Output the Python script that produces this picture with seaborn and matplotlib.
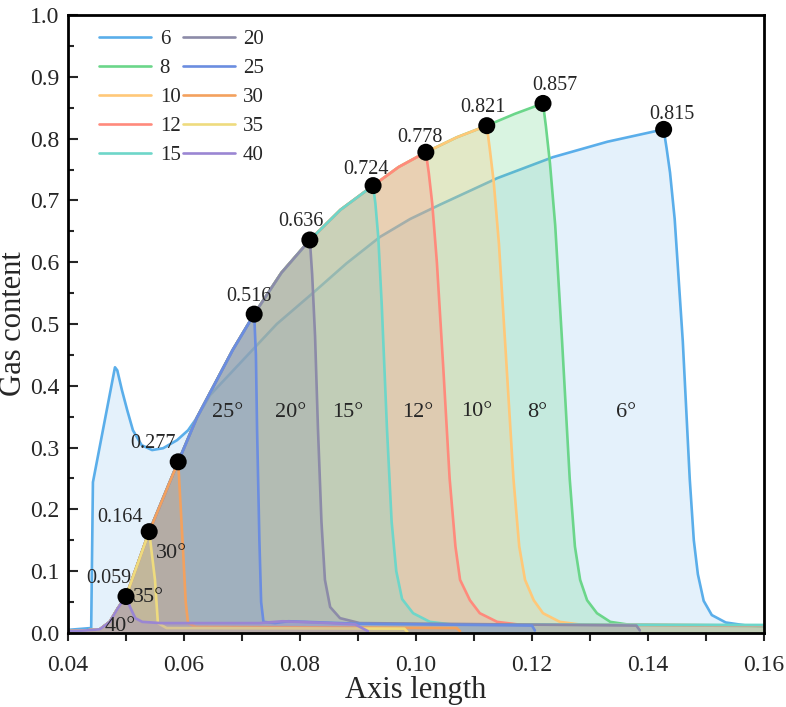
import numpy as np
import pandas as pd
import matplotlib
matplotlib.use("Agg")
import matplotlib.pyplot as plt
import seaborn as sns
from matplotlib.ticker import MultipleLocator, FormatStrFormatter

# ---------------- data ----------------
angles = ['6', '8', '10', '12', '15', '20', '25', '30', '35', '40']
peak_x = [0.1427, 0.1219, 0.1122, 0.1017, 0.0926, 0.0817, 0.0721, 0.0590, 0.0540, 0.0500]
peak_y = [0.815, 0.857, 0.821, 0.778, 0.724, 0.636, 0.516, 0.277, 0.164, 0.059]

# common rising envelope shared by the 8..40 degree curves
env_x = [0.040, 0.043, 0.0455, 0.0472, 0.0486, 0.0500, 0.0540, 0.0590, 0.0622, 0.0684,
         0.0721, 0.0768, 0.0817, 0.0870, 0.0926, 0.0970, 0.1017, 0.1070, 0.1122, 0.1170, 0.1219]
env_y = [0.003, 0.004, 0.006, 0.018, 0.040, 0.059, 0.164, 0.277, 0.348, 0.458,
         0.516, 0.583, 0.636, 0.685, 0.724, 0.754, 0.778, 0.802, 0.821, 0.840, 0.857]

# the 6 degree curve has its own rising branch
six_x = [0.040, 0.0440, 0.0443, 0.0481, 0.0485, 0.0493, 0.0502, 0.0512, 0.0527, 0.0545,
         0.0564, 0.0588, 0.0607, 0.0622, 0.0645, 0.0700, 0.0760, 0.0822, 0.0880, 0.0938,
         0.0990, 0.1041, 0.1140, 0.1236, 0.1330, 0.1427]
six_y = [0.005, 0.008, 0.244, 0.430, 0.425, 0.393, 0.361, 0.328, 0.304, 0.296,
         0.299, 0.312, 0.328, 0.348, 0.385, 0.440, 0.500, 0.550, 0.598, 0.641,
         0.670, 0.693, 0.736, 0.770, 0.795, 0.815]

# falling branch + tail after each peak
drop_x = {
    '6':  [0.1432, 0.1438, 0.1446, 0.1460, 0.1472, 0.1479, 0.1486, 0.1496, 0.1510, 0.1534, 0.1570, 0.1600],
    '8':  [0.1224, 0.1231, 0.1240, 0.1252, 0.1265, 0.1274, 0.1283, 0.1295, 0.1312, 0.1335, 0.1370, 0.1600],
    '10': [0.1127, 0.1134, 0.1143, 0.1155, 0.1168, 0.1178, 0.1188, 0.1203, 0.1219, 0.1248, 0.1280, 0.1600],
    '12': [0.1022, 0.1028, 0.1036, 0.1047, 0.1058, 0.1068, 0.1076, 0.1093, 0.1110, 0.1140, 0.1174, 0.1600],
    '15': [0.0930, 0.0935, 0.0941, 0.0950, 0.0958, 0.0966, 0.0976, 0.0995, 0.1024, 0.1059, 0.1600],
    '20': [0.0821, 0.0826, 0.0831, 0.0837, 0.0843, 0.0852, 0.0869, 0.0903, 0.1380, 0.1386],
    '25': [0.0724, 0.0726, 0.0730, 0.0733, 0.0737, 0.0757, 0.0780, 0.0900, 0.1200, 0.1205],
    '30': [0.0598, 0.0603, 0.0607, 0.0620, 0.1070, 0.1076],
    '35': [0.0550, 0.0555, 0.0570, 0.0980, 0.0985],
    '40': [0.0507, 0.0516, 0.0528, 0.0560, 0.0730, 0.0770, 0.0850, 0.0895, 0.0917],
}
drop_y = {
    '6':  [0.785, 0.745, 0.670, 0.472, 0.249, 0.150, 0.095, 0.052, 0.029, 0.017, 0.012, 0.011],
    '8':  [0.820, 0.760, 0.660, 0.470, 0.250, 0.140, 0.086, 0.053, 0.032, 0.018, 0.013, 0.011],
    '10': [0.785, 0.730, 0.630, 0.450, 0.250, 0.140, 0.086, 0.053, 0.032, 0.018, 0.014, 0.012],
    '12': [0.745, 0.695, 0.600, 0.430, 0.250, 0.140, 0.086, 0.053, 0.032, 0.018, 0.014, 0.012],
    '15': [0.695, 0.640, 0.530, 0.330, 0.180, 0.100, 0.055, 0.032, 0.018, 0.014, 0.013],
    '20': [0.580, 0.480, 0.330, 0.180, 0.086, 0.042, 0.024, 0.016, 0.012, 0.004],
    '25': [0.450, 0.330, 0.150, 0.050, 0.018, 0.016, 0.019, 0.015, 0.012, 0.004],
    '30': [0.140, 0.050, 0.016, 0.010, 0.008, 0.003],
    '35': [0.086, 0.016, 0.008, 0.007, 0.002],
    '40': [0.042, 0.024, 0.018, 0.016, 0.016, 0.019, 0.016, 0.014, 0.003],
}

palette = {'6': '#5AAEEA', '8': '#6BD68A', '10': '#FFC878', '12': '#FF8A7C',
           '15': '#6ED6C9', '20': '#8C8BA8', '25': '#6B8DE0', '30': '#F3A15E',
           '35': '#EEDB7E', '40': '#9A86D3'}

# ---------------- build curves ----------------
curves = {}
for a, px, py in zip(angles, peak_x, peak_y):
    if a == '6':
        xs = list(six_x)
        ys = list(six_y)
    else:
        k = int(np.argmin(np.abs(np.array(env_x) - px)))
        xs = list(env_x[:k]) + [px]
        ys = list(env_y[:k]) + [py]
    xs += drop_x[a]
    ys += drop_y[a]
    curves[a] = pd.DataFrame({'x': xs, 'y': ys})

# ---------------- style ----------------
sns.set_style('ticks')
plt.rcParams['font.family'] = ['Liberation Serif', 'DejaVu Serif']

fig = plt.figure(figsize=(7.86, 7.07), dpi=100)
ax = fig.add_axes([0.0865, 0.1047, 0.8855, 0.874])

for i, a in enumerate(angles):
    df = curves[a]
    z = 1 + i * 0.1
    alpha = 0.16 if a == '6' else 0.25
    ax.fill_between(df['x'], df['y'], 0, color=palette[a], alpha=alpha, lw=0, zorder=z)
    sns.lineplot(data=df, x='x', y='y', sort=False, estimator=None, color=palette[a],
                 lw=1.9, ax=ax, zorder=z + 0.05, label=a)

sns.scatterplot(x=peak_x, y=peak_y, color='black', s=150, edgecolor='none',
                zorder=20, ax=ax, legend=False)

peak_off = [(8, 15), (12, 18), (-4, 18), (-6, 15), (-7, 16), (-9, 18), (-5, 18),
            (-25, 18), (-29, 14), (-17, 18)]
for px, py, off in zip(peak_x, peak_y, peak_off):
    ax.annotate(f'{py:.3f}', (px, py), xytext=off, textcoords='offset pixels',
                ha='center', va='center', fontsize=14.5, zorder=21)

angle_pos = {'6': (0.1362, 0.357), '8': (0.1209, 0.357), '10': (0.1105, 0.358),
             '12': (0.1003, 0.357), '15': (0.0883, 0.357), '20': (0.0784, 0.357),
             '25': (0.0676, 0.357), '30': (0.0579, 0.129), '35': (0.0538, 0.057),
             '40': (0.0490, 0.010)}
for a in angles:
    x, y = angle_pos[a]
    ax.text(x, y, a + '°', ha='center', va='center', fontsize=16, zorder=22)

ax.set_xlim(0.04, 0.16)
ax.set_ylim(0.0, 1.0)
ax.xaxis.set_major_locator(MultipleLocator(0.02))
ax.xaxis.set_minor_locator(MultipleLocator(0.01))
ax.yaxis.set_major_locator(MultipleLocator(0.1))
ax.yaxis.set_minor_locator(MultipleLocator(0.05))
ax.xaxis.set_major_formatter(FormatStrFormatter('%.2f'))
ax.yaxis.set_major_formatter(FormatStrFormatter('%.1f'))
ax.tick_params(axis='x', which='both', direction='out', length=6, width=1.5,
               labelsize=17, pad=10, top=False)
ax.tick_params(axis='y', which='major', direction='in', length=7, width=1.5,
               labelsize=17, pad=6, right=False)
ax.tick_params(axis='y', which='minor', direction='in', length=4, width=1.5, right=False)
for s in ax.spines.values():
    s.set_visible(True)
    s.set_linewidth(2)
    s.set_color('black')

ax.set_xlabel('Axis length', fontsize=22, labelpad=0)
ax.set_ylabel('Gas content', fontsize=22, labelpad=2)

handles, labels = ax.get_legend_handles_labels()
ax.legend(handles, labels, ncol=2, loc='upper left', bbox_to_anchor=(0.03, 0.993),
          frameon=False, fontsize=15, borderpad=0, handlelength=2.5, handletextpad=0.4,
          columnspacing=0.1, labelspacing=0.45)

fig.savefig('out.png', dpi=100)
